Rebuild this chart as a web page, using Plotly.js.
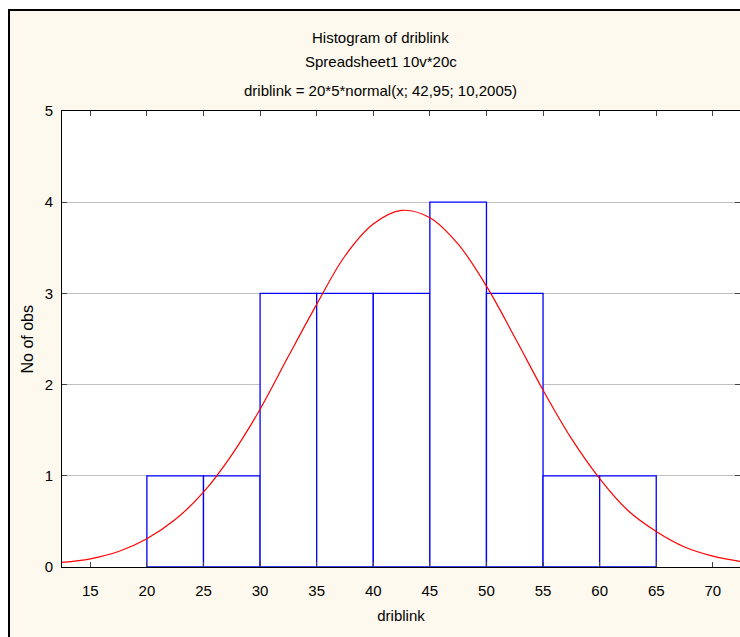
<!DOCTYPE html>
<html>
<head>
<meta charset="utf-8">
<script src="https://cdn.plot.ly/plotly-3.0.1.min.js"></script>
<style>
  html, body { margin: 0; padding: 0; background: #ffffff; }
  #frame {
    position: absolute; left: 8px; top: 9px;
    border-left: 2px solid #000; border-top: 2px solid #000;
    width: 730px; height: 626px; overflow: hidden;
  }
  #chart { width: 730px; height: 626px; }
</style>
</head>
<body>
<div id="frame"><div id="chart"></div></div>
<script>
// Histogram bins (lower edges) and counts
var binLower = [20, 25, 30, 35, 40, 45, 50, 55, 60];
var binWidth = 5;
var counts = [1, 1, 3, 3, 3, 4, 3, 1, 1];

// Fitted normal curve
var curveX = [12.5, 15, 17.5, 20, 22.5, 25, 27.5, 30, 32.5, 35, 37.5, 40, 42.5,
              45, 47.5, 50, 52.5, 55, 57.5, 60, 62.5, 65, 67.5, 70, 72.5];
var curveY = [0.05, 0.09, 0.17, 0.31, 0.52, 0.82, 1.23, 1.73, 2.31, 2.88, 3.41, 3.76, 3.91,
              3.83, 3.54, 3.08, 2.52, 1.94, 1.41, 0.97, 0.62, 0.39, 0.22, 0.12, 0.06];

// Tick values
var xTicks = [15, 20, 25, 30, 35, 40, 45, 50, 55, 60, 65, 70];
var yTicks = [0, 1, 2, 3, 4, 5];

var titleLines = [
  "Histogram of driblink",
  "Spreadsheet1 10v*20c",
  "driblink = 20*5*normal(x; 42,95; 10,2005)"
];

var binCenters = binLower.map(function (b) { return b + binWidth / 2; });

var fontFam = "Liberation Sans, Arial, sans-serif";

var traces = [
  {
    type: "bar",
    x: binCenters,
    y: counts,
    width: binWidth,
    marker: { color: "#ffffff", line: { color: "#0000ff", width: 1.3 } },
    hoverinfo: "x+y"
  },
  {
    type: "scatter",
    mode: "lines",
    x: curveX,
    y: curveY,
    line: { color: "#ff0000", width: 1.2, shape: "spline" },
    hoverinfo: "x+y"
  }
];

var titleY = [1.1616, 1.108, 1.0445];
var annotations = titleLines.map(function (t, i) {
  return {
    text: t, xref: "paper", yref: "paper", x: 0.4705, y: titleY[i],
    xanchor: "center", yanchor: "middle", showarrow: false,
    font: { family: fontFam, size: 15, color: "#000" }
  };
});
annotations.push({
  text: "No of obs", xref: "paper", yref: "paper", x: -0.0509, y: 0.5,
  xanchor: "center", yanchor: "middle", textangle: -90, showarrow: false,
  font: { family: fontFam, size: 16, color: "#000" }
});

var layout = {
  width: 730, height: 626,
  margin: { l: 52, r: 0, t: 100, b: 70, pad: 0 },
  paper_bgcolor: "#fdf9ee",
  plot_bgcolor: "#ffffff",
  showlegend: false,
  bargap: 0,
  font: { family: fontFam, size: 15, color: "#000" },
  xaxis: {
    range: [12.5, 72.4],
    tickmode: "array", tickvals: xTicks, ticktext: xTicks.map(String),
    ticks: "inside", ticklen: 5, tickcolor: "#444", tickwidth: 1,
    showline: true, linecolor: "#000", linewidth: 1, mirror: "ticks",
    showgrid: false, zeroline: false,
    ticklabelstandoff: 10,
    tickfont: { family: fontFam, size: 15, color: "#000" },
    title: { text: "driblink", standoff: 12, font: { family: fontFam, size: 15, color: "#000" } }
  },
  yaxis: {
    range: [0, 5],
    tickmode: "array", tickvals: yTicks, ticktext: yTicks.map(String),
    ticks: "inside", ticklen: 5, tickcolor: "#444", tickwidth: 1,
    showline: true, linecolor: "#000", linewidth: 1, mirror: "ticks",
    showgrid: true, gridcolor: "#c0c0c0", gridwidth: 1, zeroline: false,
    ticklabelstandoff: 5,
    tickfont: { family: fontFam, size: 15, color: "#000" }
  },
  annotations: annotations
};

Plotly.newPlot("chart", traces, layout, { displayModeBar: false, staticPlot: true });
</script>
</body>
</html>
